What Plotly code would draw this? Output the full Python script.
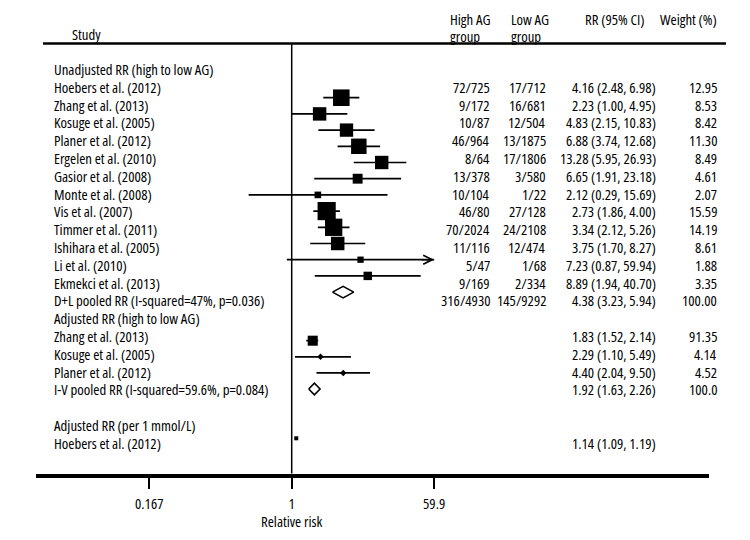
import math
import plotly.graph_objects as go

# ---------------- data ----------------
unadj_title = "Unadjusted RR (high to low AG)"
unadj_studies = ["Hoebers et al. (2012)", "Zhang et al. (2013)", "Kosuge et al. (2005)",
                 "Planer et al. (2012)", "Ergelen et al. (2010)", "Gasior et al. (2008)",
                 "Monte et al. (2008)", "Vis et al. (2007)", "Timmer et al. (2011)",
                 "Ishihara et al. (2005)", "Li et al. (2010)", "Ekmekci et al. (2013)"]
unadj_high = ["72/725", "9/172", "10/87", "46/964", "8/64", "13/378", "10/104", "46/80",
              "70/2024", "11/116", "5/47", "9/169"]
unadj_low = ["17/712", "16/681", "12/504", "13/1875", "17/1806", "3/580", "1/22", "27/128",
             "24/2108", "12/474", "1/68", "2/334"]
unadj_rr = [4.16, 2.23, 4.83, 6.88, 13.28, 6.65, 2.12, 2.73, 3.34, 3.75, 7.23, 8.89]
unadj_lo = [2.48, 1.00, 2.15, 3.74, 5.95, 1.91, 0.29, 1.86, 2.12, 1.70, 0.87, 1.94]
unadj_hi = [6.98, 4.95, 10.83, 12.68, 26.93, 23.18, 15.69, 4.00, 5.26, 8.27, 59.94, 40.70]
unadj_weight = [12.95, 8.53, 8.42, 11.30, 8.49, 4.61, 2.07, 15.59, 14.19, 8.61, 1.88, 3.35]

dl_label = "D+L pooled RR (I-squared=47%, p=0.036)"
dl_high, dl_low = "316/4930", "145/9292"
dl_rr, dl_lo, dl_hi, dl_weight = 4.38, 3.23, 5.94, "100.00"

adj_title = "Adjusted RR (high to low AG)"
adj_studies = ["Zhang et al. (2013)", "Kosuge et al. (2005)", "Planer et al. (2012)"]
adj_rr = [1.83, 2.29, 4.40]
adj_lo = [1.52, 1.10, 2.04]
adj_hi = [2.14, 5.49, 9.50]
adj_weight = [91.35, 4.14, 4.52]

iv_label = "I-V pooled RR (I-squared=59.6%, p=0.084)"
iv_rr, iv_lo, iv_hi, iv_weight = 1.92, 1.63, 2.26, "100.0"

mmol_title = "Adjusted RR (per 1 mmol/L)"
mmol_studies = ["Hoebers et al. (2012)"]
mmol_rr = [1.14]
mmol_lo = [1.09]
mmol_hi = [1.19]

tick_vals = [1 / 59.9, 1, 59.9]
tick_text = ["0.167", "1", "59.9"]
x_title = "Relative risk"
header_study = "Study"

# ---------------- layout constants (pixels) ----------------
W, H = 750, 540
X_ONE = 291.7          # pixel of RR = 1
PX_PER_DEC = 80.13     # pixels per decade
XD0, XD1 = 36, 709     # x axis extent
Y_TOP, Y_BOT = 43.5, 473.5
XMAX = 59.9
FONT = "Open Sans"
FS = 14.8
TXT_COLOR = "#000"

TEXT_Y0, TEXT_DY = 69.0, 17.8
def text_y(r):
    return TEXT_Y0 + TEXT_DY * r

def px(x):
    return x / W

def cond(s):
    return f'<span style="font-stretch:75%">{s}</span>'

fig = go.Figure()
ann = []

def txt(x, y, s, anchor, paper=False):
    ann.append(dict(x=px(x), y=(1 - y / H) if paper else y, xref="paper",
                    yref="paper" if paper else "y", text=cond(s), showarrow=False,
                    xanchor=anchor, yanchor="middle", borderpad=0,
                    font=dict(size=FS, color=TXT_COLOR, family=FONT)))

def fmt_ci(rr, lo, hi):
    return f"{rr:.2f} ({lo:.2f}, {hi:.2f})"

# ----- text columns -----
rows = []  # (row, label, high, low, ci, weight)
rows.append((0, unadj_title, "", "", "", ""))
for i, s in enumerate(unadj_studies):
    rows.append((1 + i, s, unadj_high[i], unadj_low[i],
                 fmt_ci(unadj_rr[i], unadj_lo[i], unadj_hi[i]), f"{unadj_weight[i]:.2f}"))
rows.append((13, dl_label, dl_high, dl_low, fmt_ci(dl_rr, dl_lo, dl_hi), dl_weight))
rows.append((14, adj_title, "", "", "", ""))
for i, s in enumerate(adj_studies):
    rows.append((15 + i, s, "", "", fmt_ci(adj_rr[i], adj_lo[i], adj_hi[i]), f"{adj_weight[i]:.2f}"))
rows.append((18, iv_label, "", "", fmt_ci(iv_rr, iv_lo, iv_hi), iv_weight))
rows.append((20, mmol_title, "", "", "", ""))
for i, s in enumerate(mmol_studies):
    rows.append((21 + i, s, "", "", fmt_ci(mmol_rr[i], mmol_lo[i], mmol_hi[i]), ""))

for r, lab, hi_, lo_, ci, w in rows:
    y = text_y(r)
    txt(53, y, lab, "left")
    if hi_:
        txt(491, y, hi_, "right")
    if lo_:
        txt(547, y, lo_, "right")
    if ci:
        txt(656.5, y, ci, "right")
    if w:
        txt(718, y, w, "right")

# headers
txt(71, 34, header_study, "left", paper=True)
txt(449, 19, "High AG", "left", paper=True)
txt(449, 36, "group", "left", paper=True)
txt(510, 19, "Low AG", "left", paper=True)
txt(510, 36, "group", "left", paper=True)
txt(645.5, 19, "RR (95% CI)", "right", paper=True)
txt(717.5, 19, "Weight (%)", "right", paper=True)
txt(X_ONE, 521, x_title, "center", paper=True)

# ----- graph marks -----
MA_Y0, MA_DY = 97.7, 16.2      # unadjusted section marker rows
MB_Y0, MB_DY = 340.7, 16.1     # adjusted section marker rows
MC_Y0 = 438.3                  # per-mmol section
BOX_A, BOX_B = 4.6, 1.05       # box side per sqrt(weight)

def ci_trace(los, his, ys):
    xs, yy = [], []
    for lo, hi, y in zip(los, his, ys):
        xs += [lo, min(hi, XMAX), None]
        yy += [y, y, None]
    fig.add_trace(go.Scatter(x=xs, y=yy, mode="lines", line=dict(color="black", width=1.7),
                             hoverinfo="skip", showlegend=False, cliponaxis=False))

ya = [MA_Y0 + MA_DY * i for i in range(len(unadj_rr))]
yb = [MB_Y0 + MB_DY * i for i in range(len(adj_rr))]
yc = [MC_Y0 for _ in mmol_rr]

ci_trace(unadj_lo, unadj_hi, ya)
ci_trace(adj_lo, adj_hi, yb)

fig.add_trace(go.Scatter(x=unadj_rr, y=ya, mode="markers",
                         marker=dict(symbol="square", color="black", opacity=1,
                                     size=[BOX_A * math.sqrt(w) for w in unadj_weight], line=dict(width=0)),
                         showlegend=False, cliponaxis=False))
fig.add_trace(go.Scatter(x=adj_rr, y=yb, mode="markers",
                         marker=dict(symbol="square", color="black", opacity=1,
                                     size=[BOX_B * math.sqrt(w) for w in adj_weight], line=dict(width=0)),
                         showlegend=False, cliponaxis=False))
fig.add_trace(go.Scatter(x=adj_rr, y=yb, mode="markers",
                         marker=dict(symbol="diamond", color="black", size=5, opacity=1, line=dict(width=0)),
                         showlegend=False, cliponaxis=False))
fig.add_trace(go.Scatter(x=mmol_rr, y=yc, mode="markers",
                         marker=dict(symbol="square", color="black", size=4, opacity=1, line=dict(width=0)),
                         showlegend=False, cliponaxis=False))

DH = 5.8
def diamond(rr, lo, hi, y):
    fig.add_trace(go.Scatter(x=[lo, rr, hi, rr, lo], y=[y, y - DH, y, y + DH, y],
                             mode="lines", fill="toself", fillcolor="white",
                             line=dict(color="black", width=1.6), showlegend=False,
                             hoverinfo="skip", cliponaxis=False))
diamond(dl_rr, dl_lo, dl_hi, MA_Y0 + MA_DY * len(unadj_rr))
diamond(iv_rr, iv_lo, iv_hi, MB_Y0 + MB_DY * len(adj_rr))

for hi, y in zip(unadj_hi, ya):
    if hi > XMAX:
        ann.append(dict(x=math.log10(XMAX), y=y, xref="x", yref="y", ax=-14, ay=0,
                        axref="pixel", ayref="pixel", showarrow=True, text="",
                        arrowhead=5, arrowsize=1.1, arrowwidth=1.6, arrowcolor="black"))

fig.add_trace(go.Scatter(x=[1, 1], y=[Y_TOP, Y_BOT + 2], mode="lines",
                         line=dict(color="black", width=1.5), showlegend=False,
                         hoverinfo="skip", cliponaxis=False))

shapes = [dict(type="line", xref="paper", yref="paper", x0=px(43), x1=px(726),
               y0=1 - 43.5 / H, y1=1 - 43.5 / H, line=dict(color="black", width=2.7))]

x_lo = (XD0 - X_ONE) / PX_PER_DEC
x_hi = (XD1 - X_ONE) / PX_PER_DEC

fig.update_layout(
    width=W, height=H, margin=dict(l=0, r=0, t=0, b=0),
    paper_bgcolor="white", plot_bgcolor="white",
    annotations=ann, shapes=shapes,
    font=dict(family=FONT, size=FS, color=TXT_COLOR),
    xaxis=dict(type="log", range=[x_lo, x_hi], domain=[XD0 / W, XD1 / W],
               showgrid=False, zeroline=False, showline=True, linecolor="black", linewidth=4,
               ticks="outside", ticklen=11, tickwidth=1.5, tickcolor="black",
               tickvals=tick_vals, ticktext=[cond(t) for t in tick_text],
               tickfont=dict(size=FS, family=FONT, color=TXT_COLOR), ticklabelstandoff=3),
    yaxis=dict(range=[Y_BOT, Y_TOP], domain=[1 - Y_BOT / H, 1 - Y_TOP / H],
               showgrid=False, zeroline=False, showticklabels=False, showline=False, ticks=""),
    showlegend=False,
)

fig.write_html("out.html", config={"displayModeBar": False},
               post_script="document.body.style.margin='0';")
